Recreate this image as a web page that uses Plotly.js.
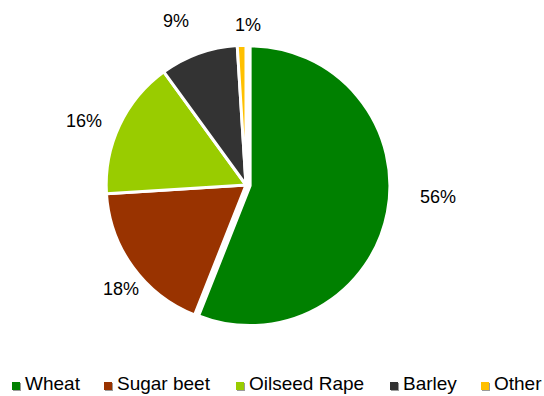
<!DOCTYPE html>
<html>
<head>
<meta charset="utf-8">
<script src="https://cdn.plot.ly/plotly-3.0.1.min.js"></script>
<style>
  html, body { margin: 0; padding: 0; background: #fff; }
  #chart { width: 544px; height: 396px; }
</style>
</head>
<body>
<div id="chart"></div>
<script>
// ---- data ----
const labels = ["Wheat", "Sugar beet", "Oilseed Rape", "Barley", "Other"];
const values = [56, 18, 16, 9, 1];
const colors = ["#008000", "#993300", "#99CC00", "#333333", "#FFC000"];
const pulls  = [0.03, 0, 0, 0, 0];

// ---- layout helpers (pixel placement of text, not data) ----
const W = 544, H = 396;
const M = { l: 50, r: 102, t: 41, b: 67 };
const pw = W - M.l - M.r, ph = H - M.t - M.b;
const px2x = px => (px - M.l) / pw;
const py2y = py => (H - M.b - py) / ph;

const pctPos = [[438, 197], [121, 289], [84, 121], [176, 21], [248, 25]];
const legSquareX = [12, 104, 236, 390, 481];
const legSqY = 386;
const legTextY = 383;
const FONT = "Liberation Sans, Arial, sans-serif";

const total = values.reduce((a, b) => a + b, 0);
const annotations = [];
const shapes = [];

values.forEach((v, i) => {
  annotations.push({
    xref: "paper", yref: "paper",
    x: px2x(pctPos[i][0]), y: py2y(pctPos[i][1]),
    xanchor: "center", yanchor: "middle",
    text: Math.round(v / total * 100) + "%",
    showarrow: false,
    font: { family: FONT, size: 18, color: "#000" }
  });
});

labels.forEach((lab, i) => {
  const sx = legSquareX[i];
  // shadow
  shapes.push({
    type: "rect", xref: "paper", yref: "paper",
    x0: px2x(sx + 1), x1: px2x(sx + 9),
    y0: py2y(legSqY + 5), y1: py2y(legSqY - 3),
    fillcolor: "#9a9a9a", line: { width: 0 }
  });
  shapes.push({
    type: "rect", xref: "paper", yref: "paper",
    x0: px2x(sx), x1: px2x(sx + 8),
    y0: py2y(legSqY + 4), y1: py2y(legSqY - 4),
    fillcolor: colors[i], line: { width: 0 }
  });
  annotations.push({
    xref: "paper", yref: "paper",
    x: px2x(sx + 12), y: py2y(legTextY),
    xanchor: "left", yanchor: "middle",
    text: lab, showarrow: false, borderpad: 0,
    font: { family: FONT, size: 19, color: "#000" }
  });
});

const trace = {
  type: "pie",
  labels: labels,
  values: values,
  marker: { colors: colors, line: { color: "#ffffff", width: 3 } },
  pull: pulls,
  sort: false,
  direction: "clockwise",
  rotation: 0,
  textinfo: "none",
  hoverinfo: "label+percent"
};

const layout = {
  width: W, height: H,
  margin: M,
  showlegend: false,
  paper_bgcolor: "#ffffff",
  plot_bgcolor: "#ffffff",
  font: { family: FONT },
  annotations: annotations,
  shapes: shapes
};

Plotly.newPlot("chart", [trace], layout, { displayModeBar: false, staticPlot: true });
</script>
</body>
</html>
